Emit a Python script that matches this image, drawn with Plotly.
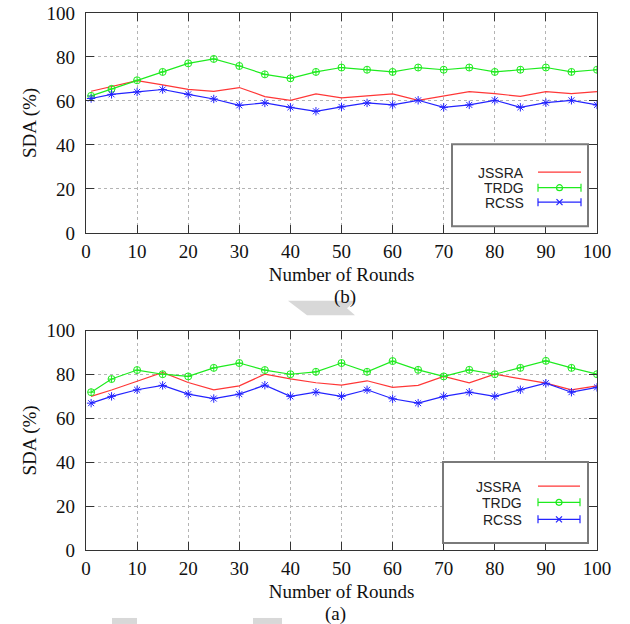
import plotly.graph_objects as go

rounds = [1, 5, 10, 15, 20, 25, 30, 35, 40, 45, 50, 55, 60, 65, 70, 75, 80, 85, 90, 95, 100]

# Panel (b) - top
jssra_b = [64.4, 66.5, 69.2, 67.3, 65.3, 64.4, 66.1, 62.0, 60.3, 63.2, 61.4, 62.3, 63.2, 60.3, 62.1, 64.2, 63.3, 62.1, 64.2, 63.3, 64.2]
trdg_b = [62.3, 65.5, 69.4, 73.2, 77.1, 79.1, 75.9, 72.1, 70.3, 73.2, 75.2, 74.2, 73.2, 75.2, 74.2, 75.2, 73.2, 74.2, 75.2, 73.2, 74.2]
rcss_b = [61.1, 63.0, 64.1, 65.2, 63.0, 60.9, 58.0, 59.1, 57.1, 55.3, 57.3, 59.1, 58.2, 60.3, 57.1, 58.2, 60.3, 57.1, 59.2, 60.3, 58.2]

# Panel (a) - bottom
jssra_a = [70.1, 73.0, 77.0, 81.0, 76.4, 73.1, 74.9, 80.2, 78.1, 76.3, 75.2, 77.2, 74.2, 75.1, 79.2, 76.3, 80.2, 78.1, 76.1, 73.1, 74.9]
trdg_a = [72.0, 78.0, 82.1, 80.2, 79.2, 83.1, 85.3, 82.1, 80.2, 81.3, 85.3, 81.3, 86.2, 82.2, 79.2, 82.2, 80.2, 83.1, 86.3, 83.1, 80.2]
rcss_a = [67.0, 70.1, 73.1, 75.1, 71.1, 69.1, 71.1, 75.2, 70.1, 72.0, 70.1, 73.1, 69.0, 67.0, 70.1, 72.0, 70.1, 73.1, 76.1, 72.0, 74.2]

series_names = ["JSSRA", "TRDG", "RCSS"]
x_ticks = [0, 10, 20, 30, 40, 50, 60, 70, 80, 90, 100]
y_ticks = [0, 20, 40, 60, 80, 100]
panel_labels = ["(b)", "(a)"]

RED = "rgb(255,55,55)"
GREEN = "rgb(30,235,30)"
BLUE = "rgb(35,35,255)"
COLORS = [RED, GREEN, BLUE]

# page geometry (screen pixels; body margin is removed below)
OFF = 0
W, H = 630, 624
PL, PR, PT, PB = 86, 597, 12.7, 550   # whole plotting region in screen px


def px(X):
    return (X - PL) / (PR - PL)


def py(Y):
    return (PB - Y) / (PB - PT)


fig = go.Figure()


def add_panel(xa, ya, jv, tv, rv):
    fig.add_trace(go.Scatter(x=rounds, y=jv, name=series_names[0], mode="lines",
                             line=dict(color=RED, width=1.2), xaxis=xa, yaxis=ya, showlegend=False))
    fig.add_trace(go.Scatter(x=rounds, y=tv, name=series_names[1], mode="lines+markers",
                             line=dict(color=GREEN, width=1.2),
                             marker=dict(symbol="circle-cross-open", size=7, color=GREEN, line=dict(width=1)),
                             xaxis=xa, yaxis=ya, showlegend=False))
    fig.add_trace(go.Scatter(x=rounds, y=rv, name=series_names[2], mode="lines+markers",
                             line=dict(color=BLUE, width=1.2),
                             marker=dict(symbol="asterisk-open", size=7, color=BLUE, line=dict(width=1, color=BLUE)),
                             xaxis=xa, yaxis=ya, showlegend=False))


add_panel("x", "y", jssra_b, trdg_b, rcss_b)
add_panel("x2", "y2", jssra_a, trdg_a, rcss_a)

serif = "Liberation Serif, Times New Roman, serif"
axis_common = dict(showline=True, linecolor="#333", linewidth=1.2, mirror="ticks",
                   ticks="inside", ticklen=8, tickcolor="#333", tickwidth=1,
                   showgrid=True, gridcolor="#b4b4b4", griddash="dot", gridwidth=1,
                   zeroline=False, automargin=False,
                   tickfont=dict(family=serif, size=19, color="#111"))

xcommon = dict(axis_common, range=[0, 100], tickvals=x_ticks, ticklabelstandoff=1,
               title=dict(text="Number of Rounds", font=dict(family=serif, size=19, color="#111"), standoff=6))
ycommon = dict(axis_common, range=[0, 100], tickvals=y_ticks, ticklabelstandoff=6,
               title=dict(text="SDA (%)", font=dict(family=serif, size=19, color="#111"), standoff=4))

shapes = []
annotations = []

# custom legends (text on the left, sample on the right, gnuplot style)
legend_specs = [
    dict(box=(452, 144, 588, 226), rows=(172, 187.5, 202), text_right=525, s0=538, s1=581),
    dict(box=(443, 462, 588, 543), rows=(486, 502.3, 519.3), text_right=523, s0=538, s1=580),
]
for spec in legend_specs:
    x0, y0, x1, y1 = spec["box"]
    shapes.append(dict(type="rect", xref="paper", yref="paper", x0=px(x0), x1=px(x1), y0=py(y0), y1=py(y1),
                       line=dict(color="#7a7a7a", width=2), fillcolor="white", layer="above"))
    for i, name in enumerate(series_names):
        Y = spec["rows"][i]
        annotations.append(dict(text=name, x=px(spec["text_right"]), y=py(Y), xref="paper", yref="paper",
                                xanchor="right", yanchor="middle", showarrow=False, height=15, borderpad=0,
                                valign="middle",
                                font=dict(family="Liberation Sans", size=14, color="#222")))
        shapes.append(dict(type="line", xref="paper", yref="paper", x0=px(spec["s0"]), x1=px(spec["s1"]),
                           y0=py(Y), y1=py(Y), line=dict(color=COLORS[i], width=1.2), layer="above"))
        if i > 0:
            for sx in (spec["s0"], spec["s1"]):
                shapes.append(dict(type="line", xref="paper", yref="paper", x0=px(sx), x1=px(sx),
                                   y0=py(Y - 4), y1=py(Y + 4), line=dict(color=COLORS[i], width=1.2), layer="above"))
            cx = (spec["s0"] + spec["s1"]) / 2
            if i == 1:
                shapes.append(dict(type="circle", xref="paper", yref="paper", x0=px(cx - 3), x1=px(cx + 3),
                                   y0=py(Y - 3), y1=py(Y + 3), line=dict(color=COLORS[i], width=1.2), layer="above"))
            else:
                for d in (1, -1):
                    shapes.append(dict(type="line", xref="paper", yref="paper", x0=px(cx - 3), x1=px(cx + 3),
                                       y0=py(Y - 3 * d), y1=py(Y + 3 * d), line=dict(color=COLORS[i], width=1.2),
                                       layer="above"))

# panel captions
annotations.append(dict(text=panel_labels[0], x=px(344.5), y=py(297), xref="paper", yref="paper",
                        showarrow=False, xanchor="center", yanchor="middle",
                        font=dict(family=serif, size=19, color="#111")))
annotations.append(dict(text=panel_labels[1], x=px(335.5), y=py(614), xref="paper", yref="paper",
                        showarrow=False, xanchor="center", yanchor="middle",
                        font=dict(family=serif, size=19, color="#111")))


# light grey watermark fragments
def poly(points):
    d = "M " + " L ".join(f"{px(X):.5f},{py(Y):.5f}" for X, Y in points) + " Z"
    return dict(type="path", xref="paper", yref="paper", path=d, fillcolor="#d8d8d8",
                line=dict(width=0), layer="above")


shapes.append(poly([(288, 300.7), (355, 300.7), (347, 308), (355, 315), (307, 315)]))
shapes.append(poly([(112, 618), (137, 618), (137, 624), (112, 624)]))
shapes.append(poly([(253, 618), (282, 618), (282, 624), (253, 624)]))

fig.update_layout(
    width=W, height=H,
    margin=dict(l=PL - OFF, r=W - (PR - OFF), t=PT - OFF, b=H - (PB - OFF)),
    paper_bgcolor="white", plot_bgcolor="white",
    showlegend=False,
    xaxis=dict(xcommon, domain=[0, 1], anchor="y"),
    yaxis=dict(ycommon, domain=[py(232.7), 1.0], anchor="x"),
    xaxis2=dict(xcommon, domain=[0, 1], anchor="y2"),
    yaxis2=dict(ycommon, domain=[0, py(330.7)], anchor="x2"),
    shapes=shapes,
    annotations=annotations,
)

fig.write_html("out.html", config={"displayModeBar": False},
               post_script="document.body.style.margin='0px';")
